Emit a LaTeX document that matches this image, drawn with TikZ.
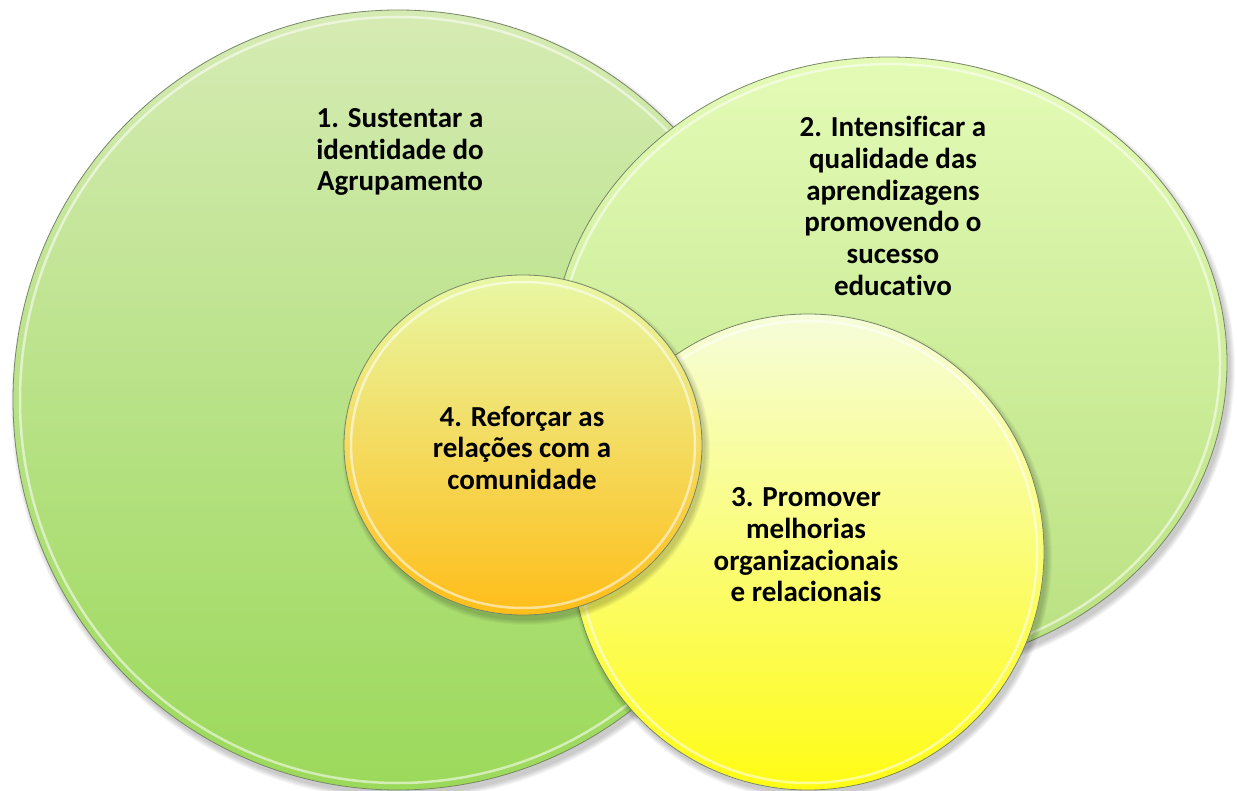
\documentclass[tikz,border=0pt]{standalone}
\usepackage{fontspec}
\setmainfont{Carlito}[RawFeature={-liga;-clig;-calt;-dlig}]
\usetikzlibrary{shapes.geometric}
\definecolor{edgecol}{RGB}{120,135,100}
\definecolor{oneTop}{RGB}{214,235,180}
\definecolor{oneBot}{RGB}{155,217,90}
\definecolor{twoTop}{RGB}{228,251,182}
\definecolor{twoBot}{RGB}{184,224,128}
\definecolor{threeTop}{RGB}{246,253,218}
\definecolor{threeMid}{RGB}{252,254,140}
\definecolor{threeBot}{RGB}{255,252,20}
\definecolor{fourTop}{RGB}{232,248,165}
\definecolor{fourMid}{RGB}{250,228,110}
\definecolor{fourBot}{RGB}{255,190,25}
\begin{document}
\begin{tikzpicture}[x=1pt,y=1pt,
  bubble/.style={ellipse, inner sep=0pt, draw=edgecol, line width=0.8pt},
  ring/.style={white, opacity=0.55, line width=2.5pt},
  shadowfill/.style={fill=black, opacity=0.035},
  goal/.style={align=center, font=\bfseries\fontsize{29}{31.7}\selectfont, text=black, inner sep=0pt}]
\useasboundingbox (0,0) rectangle (1237,-791);
\fill[white] (0,0) rectangle (1237,-791);
% centres
\coordinate (p1) at (398,-400);
\coordinate (p2) at (889,-363);
\coordinate (p3) at (808,-552);
\coordinate (p4) at (523,-445);
% circle 1
\foreach \k in {0,...,5} {\fill[shadowfill] ([shift={(3,-5)}]p1) ellipse [x radius={385+\k}, y radius={390+\k}];}
\node[bubble, minimum width=770pt, minimum height=780pt, top color=oneTop, bottom color=oneBot] (c1) at (p1) {};
\draw[ring] (p1) ellipse [x radius=378, y radius=383];
% circle 2
\foreach \k in {0,...,5} {\fill[shadowfill] ([shift={(3,-5)}]p2) ellipse [x radius={338+\k}, y radius={306+\k}];}
\node[bubble, minimum width=676pt, minimum height=612pt, top color=twoTop, bottom color=twoBot] (c2) at (p2) {};
\draw[ring] (p2) ellipse [x radius=331, y radius=299];
% circle 3
\foreach \k in {0,...,5} {\fill[shadowfill] ([shift={(3,-5)}]p3) ellipse [x radius={236+\k}, y radius={238+\k}];}
\node[bubble, minimum width=472pt, minimum height=476pt, top color=threeTop, middle color=threeMid, bottom color=threeBot] (c3) at (p3) {};
\draw[ring] (p3) ellipse [x radius=229, y radius=231];
% circle 4
\foreach \k in {0,...,5} {\fill[shadowfill] ([shift={(3,-5)}]p4) ellipse [x radius={179+\k}, y radius={170+\k}];}
\node[bubble, minimum width=358pt, minimum height=340pt, top color=fourTop, middle color=fourMid, bottom color=fourBot] (c4) at (p4) {};
\draw[ring] (p4) ellipse [x radius=172, y radius=163];
% texts
\node[goal] (t1) at (400,-152) {1. Sustentar a\\identidade do\\Agrupamento};
\node[goal] (t2) at (893,-206) {2. Intensificar a\\qualidade das\\aprendizagens\\promovendo o\\sucesso\\educativo};
\node[goal] (t4) at (522,-448) {4. Reforçar as\\relações com a\\comunidade};
\node[goal] (t3) at (806,-545) {3. Promover\\melhorias\\organizacionais\\e relacionais};
\end{tikzpicture}
\end{document}
